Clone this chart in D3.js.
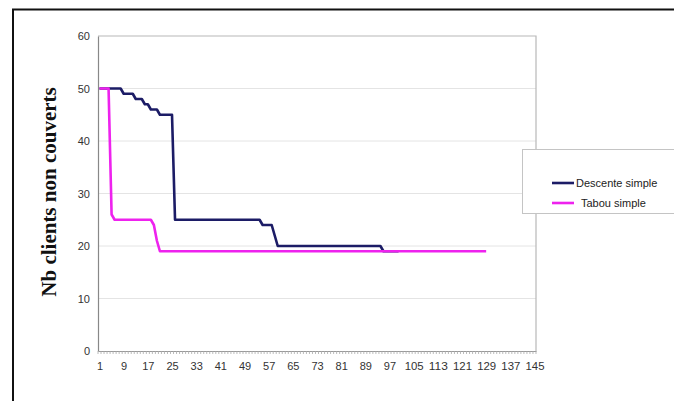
<!DOCTYPE html>
<html><head><meta charset="utf-8">
<script src="https://cdn.jsdelivr.net/npm/d3@7"></script>
<style>
html,body{margin:0;padding:0;background:#fff;}
svg{display:block;}
</style></head>
<body>
<svg id="chart" width="674" height="401"></svg>
<script>
// ---- data ----
const seriesNames = ["Descente simple", "Tabou simple"];
const seriesColors = ["#1c1c66", "#ee22ee"];
const nCategories = 145;
const xTickLabels = [1, 9, 17, 25, 33, 41, 49, 57, 65, 73, 81, 89, 97, 105, 113, 121, 129, 137, 145];
const yTickValues = [0, 10, 20, 30, 40, 50, 60];
const descente = [
  50,50,50,50,50,50,50,50,
  49,49,49,49,
  48,48,48,
  47,47,
  46,46,46,
  45,45,45,45,45,
  25,25,25,25,25,25,25,25,25,25,25,25,25,25,25,25,25,25,25,25,25,25,25,25,25,25,25,25,25,
  24,24,24,24,
  22,
  20,20,20,20,20,20,20,20,20,20,20,20,20,20,20,20,20,20,20,20,20,20,20,20,20,20,20,20,20,20,20,20,20,20,20,
  19,19,19,19,19,19
];
const tabou = [
  50,50,50,50,
  26,
  25,25,25,25,25,25,25,25,25,25,25,25,25,
  24,
  21,
  19,19,19,19,19,19,19,19,19,19,19,19,19,19,19,19,19,19,19,19,
  19,19,19,19,19,19,19,19,19,19,19,19,19,19,19,19,19,19,19,19,
  19,19,19,19,19,19,19,19,19,19,19,19,19,19,19,19,19,19,19,19,
  19,19,19,19,19,19,19,19,19,19,19,19,19,19,19,19,19,19,19,19,
  19,19,19,19,19,19,19,19,19,19,19,19,19,19,19,19,19,19,19,19,
  19,19,19,19,19,19,19,19,19
];
const yTitle = "Nb clients non couverts";

// ---- layout ----
const svg = d3.select("#chart");
const L = 98, R = 536, T = 36, B = 351;

// outer frame
svg.append("rect").attr("x", 0).attr("y", 0).attr("width", 674).attr("height", 401).attr("fill", "#fff");
svg.append("path").attr("d", "M13,401 V9.5 H674").attr("fill", "none").attr("stroke", "#111").attr("stroke-width", 2);

const x = d3.scaleLinear().domain([0.5, nCategories + 0.5]).range([L, R]);
const y = d3.scaleLinear().domain([0, 60]).range([B, T]);

// gridlines
svg.append("g").selectAll("line").data(yTickValues.filter(v => v > 0 && v < 60)).join("line")
  .attr("x1", L).attr("x2", R).attr("y1", d => y(d)).attr("y2", d => y(d))
  .attr("stroke", "#e4e4e4").attr("stroke-width", 1);

// plot border (top/right)
svg.append("path").attr("d", `M${L},${T} H${R} V${B}`).attr("fill", "none").attr("stroke", "#b8b8b8").attr("stroke-width", 1.2);

// y axis
const yAxis = svg.append("g").attr("transform", `translate(${L},0)`)
  .call(d3.axisLeft(y).tickValues(yTickValues).tickSize(0).tickPadding(8));
yAxis.select(".domain").attr("stroke", "#888").attr("stroke-width", 1.2);
yAxis.selectAll("text").attr("font-family", "Liberation Sans, Arial, sans-serif").attr("font-size", 11).attr("fill", "#333");

// x axis
const xAxis = svg.append("g").attr("transform", `translate(0,${B})`)
  .call(d3.axisBottom(x).tickValues(xTickLabels).tickSize(0).tickPadding(11));
xAxis.select(".domain").attr("stroke", "#999").attr("stroke-width", 1.2);
xAxis.selectAll("text").attr("font-family", "Liberation Sans, Arial, sans-serif").attr("font-size", 11).attr("fill", "#333")
  .attr("textLength", d => String(d).length >= 3 ? 19 : null).attr("lengthAdjust", "spacingAndGlyphs");
// minor category tick marks
const boundaries = d3.range(0, nCategories + 1).map(i => i + 0.5);
svg.append("g").selectAll("line").data(boundaries).join("line")
  .attr("x1", d => x(d)).attr("x2", d => x(d)).attr("y1", B).attr("y2", B + 3)
  .attr("stroke", "#aaa").attr("stroke-width", 0.8);

// y title
svg.append("text").attr("transform", `translate(56,192) rotate(-90)`)
  .attr("text-anchor", "middle").attr("font-family", "Liberation Serif, Times New Roman, serif")
  .attr("font-weight", "bold").attr("font-size", 21).attr("fill", "#111").text(yTitle);

// lines
const line = d3.line().x((d, i) => x(i + 1)).y(d => y(d));
[descente, tabou].forEach((s, k) => {
  svg.append("path").datum(s).attr("d", line).attr("fill", "none")
    .attr("stroke", seriesColors[k]).attr("stroke-width", 2.6).attr("stroke-linejoin", "round");
});

// legend
svg.append("rect").attr("x", 522.5).attr("y", 149.5).attr("width", 160).attr("height", 64)
  .attr("fill", "#fff").attr("stroke", "#c4c4c4").attr("stroke-width", 1);
const legY = [183, 203];
const legTextX = [576, 581];
seriesNames.forEach((n, k) => {
  svg.append("line").attr("x1", 552).attr("x2", 574).attr("y1", legY[k]).attr("y2", legY[k])
    .attr("stroke", seriesColors[k]).attr("stroke-width", 2.6);
  svg.append("text").attr("x", legTextX[k]).attr("y", legY[k] + 4)
    .attr("font-family", "Liberation Sans, Arial, sans-serif").attr("font-size", 11).attr("fill", "#222").text(n);
});
</script>
</body></html>
